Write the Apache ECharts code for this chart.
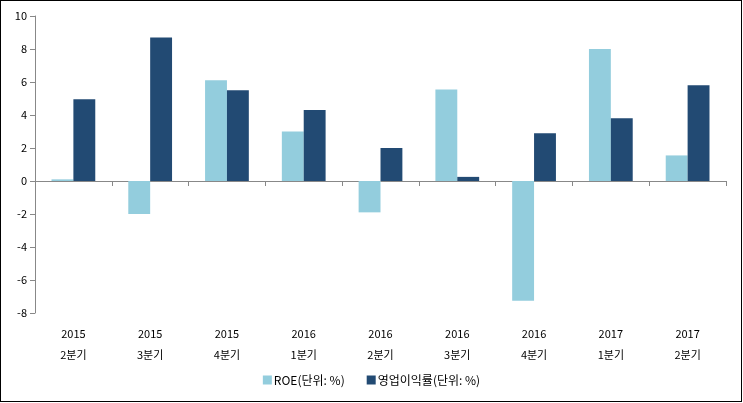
<!DOCTYPE html>
<html>
<head>
<meta charset="utf-8">
<script src="https://cdn.jsdelivr.net/npm/echarts@6/dist/echarts.min.js"></script>
<style>
html,body{margin:0;padding:0;background:#fff;}
#wrap{position:absolute;left:0;top:0;width:742px;height:402px;box-sizing:border-box;border:1px solid #000;background:#fff;}
#chart{position:absolute;left:0;top:0;width:743px;height:403px;}
</style>
</head>
<body>
<div id="wrap"></div>
<div id="chart"></div>
<script>
var years = ['2015','2015','2015','2016','2016','2016','2016','2017','2017'];
var quarters = ['2분기','3분기','4분기','1분기','2분기','3분기','4분기','1분기','2분기'];
var categories = years.map(function(y,i){ return y + '\n' + quarters[i]; });
var roe = [0.1, -2.0, 6.1, 3.0, -1.9, 5.55, -7.25, 8.0, 1.55];
var opMargin = [4.95, 8.7, 5.5, 4.3, 2.0, 0.25, 2.9, 3.8, 5.8];
var seriesNames = ['ROE(단위: %)', '영업이익률(단위: %)'];

var font = '"Noto Sans CJK KR", "Noto Sans", sans-serif';
var chart = echarts.init(document.getElementById('chart'), null, {renderer:'canvas'});
chart.setOption({
  backgroundColor: 'transparent',
  animation: false,
  textStyle: {fontFamily: font},
  grid: {left: 35, right: 17, top: 16, bottom: 90, containLabel: false},
  legend: {
    bottom: 12,
    left: 'center',
    itemWidth: 9, itemHeight: 9,
    itemGap: 22,
    icon: 'rect',
    textStyle: {fontFamily: font, fontSize: 12, color: '#000', padding:[0,0,0,-3]},
    data: seriesNames
  },
  xAxis: [{
    type: 'category',
    data: categories,
    axisLine: {onZero: true, lineStyle: {color: '#888', width: 1}},
    axisTick: {show: true, length: 5, lineStyle: {color: '#888'}},
    axisLabel: {show: false}
  }, {
    type: 'category',
    data: categories,
    position: 'bottom',
    axisLine: {show: false, onZero: false},
    axisTick: {show: false},
    axisLabel: {show: true, margin: 10, fontSize: 11, color: '#000', lineHeight: 21, fontFamily: font}
  }],
  yAxis: {
    type: 'value',
    min: -8, max: 10, interval: 2,
    splitLine: {show: false},
    axisLine: {show: true, lineStyle: {color: '#888'}},
    axisTick: {show: true, length: 5, lineStyle: {color: '#888'}},
    axisLabel: {fontSize: 11, color: '#000', margin: 8, fontFamily: font}
  },
  series: [{
    name: seriesNames[0],
    type: 'bar',
    data: roe,
    itemStyle: {color: '#93CDDD'},
    barGap: '0%',
    barCategoryGap: '43%'
  }, {
    name: seriesNames[1],
    type: 'bar',
    data: opMargin,
    itemStyle: {color: '#224A73'},
    barGap: '0%',
    barCategoryGap: '43%'
  }]
});
</script>
</body>
</html>
